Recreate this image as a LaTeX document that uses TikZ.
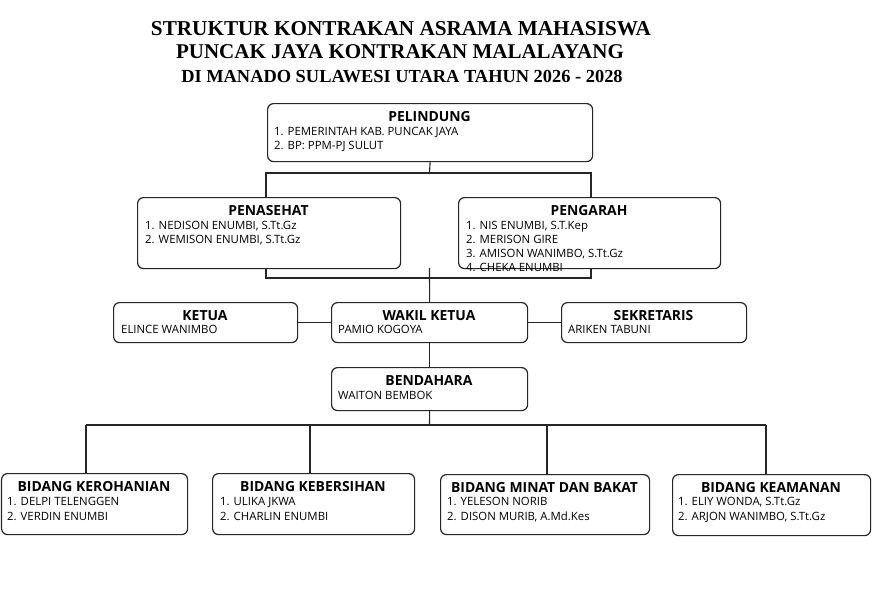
\documentclass[tikz,border=0pt]{standalone}
\usepackage{fontspec}
\usetikzlibrary{backgrounds}
\newfontfamily\osans{Open Sans}
\newfontfamily\ttlfont{Liberation Serif}
\newcommand\hdfont{\osans\bfseries\fontsize{13.9}{16}\selectfont}
\newcommand\bdfont{\osans\fontsize{11.4}{14}\selectfont}
\tikzset{
  orgbox/.style={draw=black!85, line width=1.2pt, rounded corners=6pt, fill=white, inner sep=0pt, anchor=north west},
  head/.style={font=\hdfont, anchor=base, inner sep=0pt, text=black},
  ln/.style={font=\bdfont, anchor=base west, inner sep=0pt, text=black},
  ttl/.style={anchor=base, inner sep=0pt, text=black},
  conn/.style={draw=black!85, line width=1.1pt}
}
\newcommand\obox[6]{%
  \node[orgbox, minimum width={#4-#2}, minimum height={#5-#3}] (#1) at (#2,#3) {};
  \node[head] (#1-h) at ({(#2+#4)/2},{#3+18}) {#6};
}
\begin{document}
\begin{tikzpicture}[x=1pt,y=-1pt]
\useasboundingbox (0,0) rectangle (875,606);
% title
\node[ttl, font={\ttlfont\bfseries\fontsize{21.2}{24}\selectfont}] (t1) at (401,35) {STRUKTUR KONTRAKAN ASRAMA MAHASISWA};
\node[ttl, font={\ttlfont\bfseries\fontsize{21}{24}\selectfont}] (t2) at (400,58) {PUNCAK JAYA KONTRAKAN MALALAYANG};
\node[ttl, font={\ttlfont\bfseries\fontsize{18.4}{21}\selectfont}] (t3) at (402,82) {DI MANADO SULAWESI UTARA TAHUN 2026 - 2028};
% boxes
\obox{pel}{267}{103}{592}{161}{PELINDUNG}
\node[ln] (pel-1) at (274,135) {1. PEMERINTAH KAB. PUNCAK JAYA};
\node[ln] (pel-2) at (274,149) {2. BP: PPM-PJ SULUT};
\obox{pen}{137}{197}{400}{268}{PENASEHAT}
\node[ln] (pen-1) at (145,229) {1. NEDISON ENUMBI, S.Tt.Gz};
\node[ln] (pen-2) at (145,243) {2. WEMISON ENUMBI, S.Tt.Gz};
\obox{peng}{458}{197}{720}{268}{PENGARAH}
\node[ln] (peng-1) at (466,229) {1. NIS ENUMBI, S.T.Kep};
\node[ln] (peng-2) at (466,243) {2. MERISON GIRE};
\node[ln] (peng-3) at (466,257) {3. AMISON WANIMBO, S.Tt.Gz};
\node[ln] (peng-4) at (466,271) {4. CHEKA ENUMBI};
\obox{ket}{113}{302}{297}{342}{KETUA}
\node[ln] (ket-1) at (121,333) {ELINCE WANIMBO};
\obox{wak}{331}{302}{527}{342}{WAKIL KETUA}
\node[ln] (wak-1) at (338,333) {PAMIO KOGOYA};
\obox{sek}{561}{302}{746}{342}{SEKRETARIS}
\node[ln] (sek-1) at (568,333) {ARIKEN TABUNI};
\obox{ben}{331}{367}{527}{410}{BENDAHARA}
\node[ln] (ben-1) at (338,399) {WAITON BEMBOK};
\obox{ker}{1}{473}{187}{534}{BIDANG KEROHANIAN}
\node[ln] (ker-1) at (7,505) {1. DELPI TELENGGEN};
\node[ln] (ker-2) at (7,520) {2. VERDIN ENUMBI};
\obox{keb}{212}{473}{414}{534}{BIDANG KEBERSIHAN}
\node[ln] (keb-1) at (220,505) {1. ULIKA JKWA};
\node[ln] (keb-2) at (220,520) {2. CHARLIN ENUMBI};
\obox{min}{440}{474}{649}{534}{BIDANG MINAT DAN BAKAT}
\node[ln] (min-1) at (447,505) {1. YELESON NORIB};
\node[ln] (min-2) at (447,520) {2. DISON MURIB, A.Md.Kes};
\obox{kea}{672}{474}{870}{535}{BIDANG KEAMANAN}
\node[ln] (kea-1) at (678,505) {1. ELIY WONDA, S.Tt.Gz};
\node[ln] (kea-2) at (678,520) {2. ARJON WANIMBO, S.Tt.Gz};
% connectors
\coordinate (j1) at (429.5,173);
\coordinate (jl) at (266,173);
\coordinate (jr) at (591,173);
\coordinate (jb) at (429.5,278);
\coordinate (j3) at (429.5,268);
\coordinate (j4) at (429.5,425);
\coordinate (d1) at (86,425);
\coordinate (d2) at (310,425);
\coordinate (d3) at (547,425);
\coordinate (d4) at (766,425);
\begin{pgfonlayer}{background}
\fill[white] (0,0) rectangle (875,606);
\draw[conn] (pel.south) -- (j1);
\draw[conn] (jl) -- (jr) -- (jr |- jb) -- (jl |- jb) -- cycle;
\draw[conn] (j3) -- (wak.north);
\draw[conn] (ket.east) -- (wak.west);
\draw[conn] (wak.east) -- (sek.west);
\draw[conn] (wak.south) -- (ben.north);
\draw[conn] (ben.south) -- (j4);
\draw[conn] (d1) -- (d4);
\draw[conn] (d1) -- (d1 |- ker.north);
\draw[conn] (d2) -- (d2 |- keb.north);
\draw[conn] (d3) -- (d3 |- min.north);
\draw[conn] (d4) -- (d4 |- kea.north);
\end{pgfonlayer}
\end{tikzpicture}
\end{document}
